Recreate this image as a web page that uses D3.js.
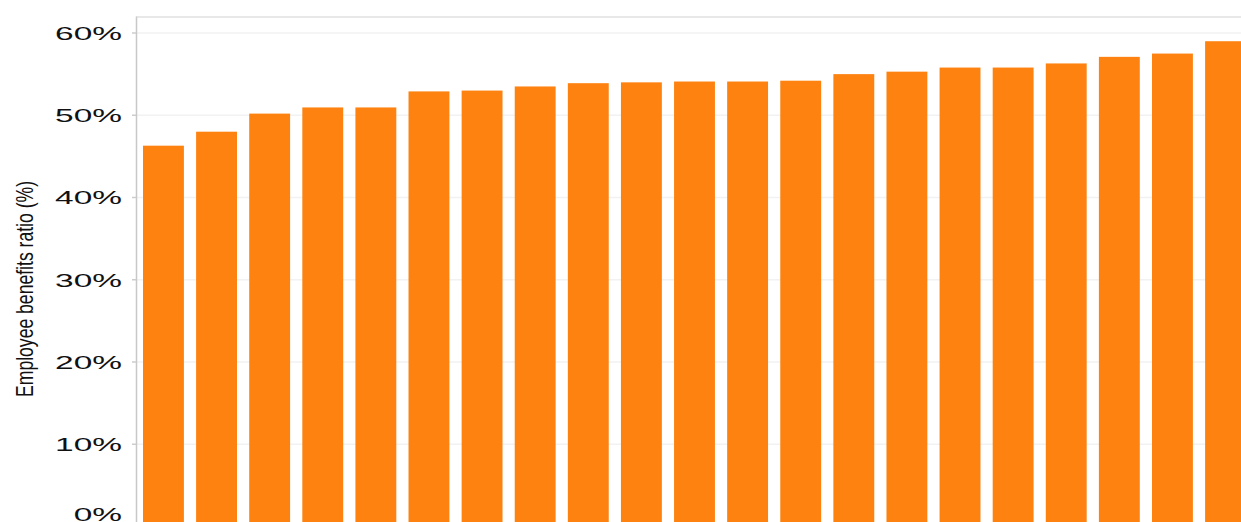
<!DOCTYPE html>
<html>
<head>
<meta charset="utf-8">
<script src="https://cdn.jsdelivr.net/npm/d3@7"></script>
<style>
  body { margin: 0; background: #fff; }
  svg { display: block; overflow: hidden; }
</style>
</head>
<body>
<div id="chart"></div>
<script>
var width = 1241, height = 522;

// bars, sorted low to high (category names are not visible in the picture)
var categories = ["c1","c2","c3","c4","c5","c6","c7","c8","c9","c10","c11",
                  "c12","c13","c14","c15","c16","c17","c18","c19","c20","c21"];
var ratios = [46.3, 48.0, 50.2, 50.95, 50.95, 52.9, 53.0, 53.5, 53.9, 54.0, 54.1,
              54.1, 54.2, 55.0, 55.3, 55.8, 55.8, 56.3, 57.1, 57.5, 59.0];
var yTicks = [0, 10, 20, 30, 40, 50, 60];
var yTitle = "Employee benefits ratio (%)";

var data = categories.map(function(c, i) { return {name: c, value: ratios[i]}; });

var svg = d3.select("#chart")
    .append("svg")
        .attr("width", width)
        .attr("height", height);

var x = d3.scaleBand()
    .domain(categories)
    .range([137, 1252])
    .paddingInner(0.23)
    .paddingOuter(0.113);

var y = d3.scaleLinear()
    .domain([0, 60])
    .range([526.5, 33]);

// gridlines
svg.selectAll(".grid")
    .data(yTicks)
    .enter()
    .append("line")
    .attr("class", "grid")
    .attr("x1", 137)
    .attr("x2", width)
    .attr("y1", function(d) { return y(d); })
    .attr("y2", function(d) { return y(d); })
    .attr("stroke", "#f2f2f2")
    .attr("stroke-width", 1.5);

// bars
svg.selectAll(".bar")
    .data(data)
    .enter()
    .append("rect")
    .attr("class", "bar")
    .attr("x", function(d) { return x(d.name); })
    .attr("width", x.bandwidth())
    .attr("y", function(d) { return y(d.value); })
    .attr("height", function(d) { return y(0) - y(d.value); })
    .attr("fill", "#fd8210");

// frame: left axis line and top border
svg.append("line")
    .attr("x1", 136.5).attr("x2", 136.5)
    .attr("y1", 16.5).attr("y2", height)
    .attr("stroke", "#c8c8c8")
    .attr("stroke-width", 1.5);
svg.append("line")
    .attr("x1", 136).attr("x2", width)
    .attr("y1", 17).attr("y2", 17)
    .attr("stroke", "#d2d2d2")
    .attr("stroke-width", 1.2);

// tick marks
svg.selectAll(".tick")
    .data(yTicks)
    .enter()
    .append("line")
    .attr("x1", 132)
    .attr("x2", 136)
    .attr("y1", function(d) { return y(d); })
    .attr("y2", function(d) { return y(d); })
    .attr("stroke", "#cccccc")
    .attr("stroke-width", 1.5);

// tick labels (wide, stretched look)
svg.selectAll(".tickLabel")
    .data(yTicks)
    .enter()
    .append("text")
    .attr("class", "tickLabel")
    .attr("transform", function(d) {
        var ty = Math.min(y(d), 514);
        return "translate(122," + ty + ") scale(1.76,1)";
    })
    .attr("dy", "0.36em")
    .attr("text-anchor", "end")
    .style("font-family", "'Liberation Sans', Arial, sans-serif")
    .style("font-size", "19px")
    .style("fill", "#111")
    .text(function(d) { return d + "%"; });

// y axis title (narrow look)
svg.append("text")
    .attr("transform", "translate(33,289) rotate(-90)")
    .attr("text-anchor", "middle")
    .attr("textLength", 216)
    .attr("lengthAdjust", "spacingAndGlyphs")
    .style("font-family", "'Liberation Sans', Arial, sans-serif")
    .style("font-size", "24px")
    .style("fill", "#111")
    .text(yTitle);
</script>
</body>
</html>
